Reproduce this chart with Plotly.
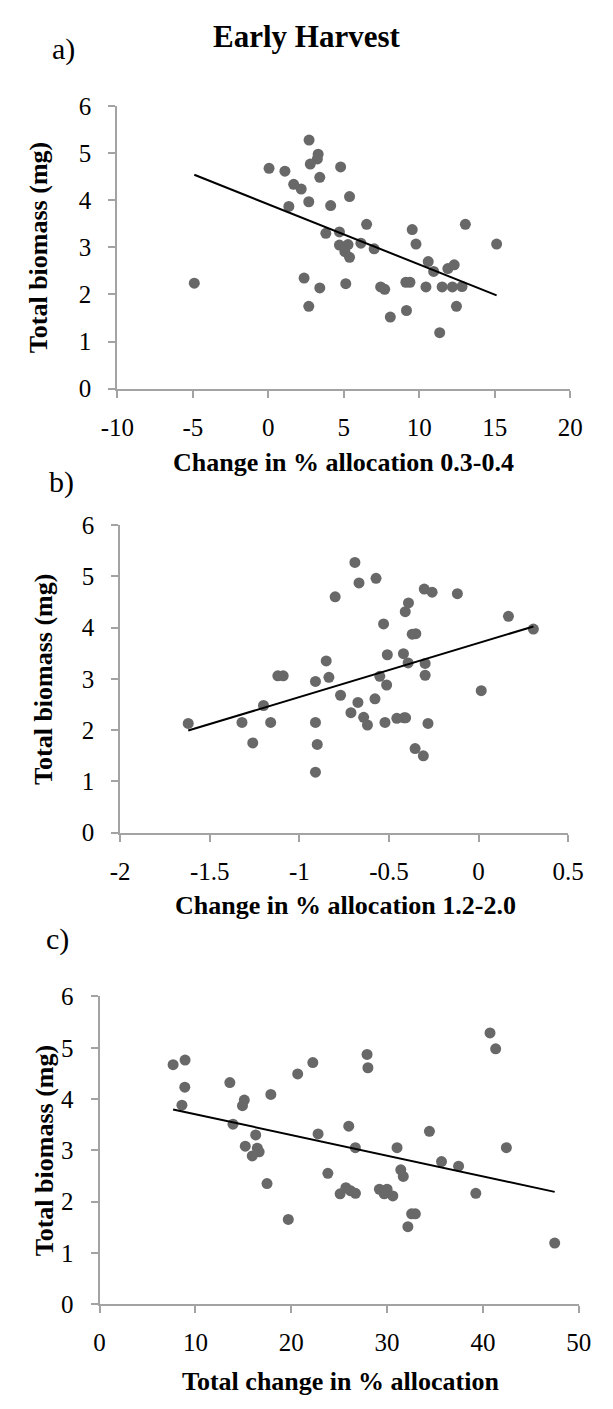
import plotly.graph_objects as go

W, H = 613, 1409

# ---------------- data ----------------
a_change = [-4.9, 0.05, 1.1, 2.7, 3.3, 3.25, 2.78, 3.41, 1.68, 2.18, 1.36, 2.68, 4.13, 3.81, 2.37, 3.41,
            2.68, 4.79, 5.38, 6.51, 4.71, 4.71, 5.28, 5.07, 5.38, 6.13, 7.01, 5.13, 9.53, 9.78, 13.05, 15.12,
            10.59, 10.95, 11.89, 12.31, 7.44, 7.71, 9.11, 9.38, 10.44, 11.51, 12.19, 12.83, 12.46, 9.15, 8.08, 11.35]
a_biomass = [2.24, 4.68, 4.62, 5.28, 4.98, 4.88, 4.77, 4.49, 4.34, 4.24, 3.87, 3.97, 3.89, 3.30, 2.35, 2.14,
             1.75, 4.71, 4.08, 3.49, 3.33, 3.05, 3.06, 2.91, 2.79, 3.09, 2.97, 2.23, 3.38, 3.07, 3.49, 3.07,
             2.70, 2.49, 2.55, 2.63, 2.16, 2.11, 2.26, 2.26, 2.16, 2.16, 2.16, 2.17, 1.75, 1.66, 1.52, 1.19]

b_change = [-1.62, -1.32, -1.26, -1.20, -1.16, -1.12, -1.09, -0.91, -0.91, -0.90, -0.91, -0.85, -0.835, -0.80,
            -0.77, -0.69, -0.667, -0.572, -0.712, -0.673, -0.641, -0.62, -0.578, -0.551, -0.513, -0.509, -0.53,
            -0.522, -0.456, -0.419, -0.416, -0.407, -0.393, -0.409, -0.391, -0.37, -0.35, -0.354, -0.308, -0.303,
            -0.259, -0.298, -0.298, -0.282, -0.118, 0.015, 0.167, 0.306]
b_biomass = [2.13, 2.15, 1.75, 2.48, 2.15, 3.06, 3.06, 2.95, 2.15, 1.72, 1.18, 3.35, 3.03, 4.60, 2.68, 5.27,
             4.87, 4.96, 2.34, 2.54, 2.25, 2.10, 2.61, 3.05, 2.88, 3.47, 4.07, 2.15, 2.23, 3.49, 2.24, 2.24,
             3.31, 4.31, 4.48, 3.87, 3.88, 1.64, 1.50, 4.75, 4.69, 3.30, 3.07, 2.13, 4.66, 2.77, 4.22, 3.97]

c_change = [7.67, 8.92, 8.89, 8.59, 13.59, 13.92, 15.10, 14.91, 17.87, 16.29, 15.20, 16.46, 16.65, 15.93,
            17.47, 20.67, 22.25, 22.80, 23.82, 19.69, 27.91, 28.0, 40.74, 41.33, 26.0, 34.42, 26.69, 31.04,
            42.45, 35.68, 37.46, 31.43, 31.69, 39.26, 25.1, 25.7, 26.2, 26.7, 29.2, 29.7, 30.0, 30.6,
            32.56, 32.95, 32.17, 47.49]
c_biomass = [4.67, 4.76, 4.23, 3.88, 4.32, 3.51, 3.98, 3.87, 4.09, 3.30, 3.08, 3.04, 2.97, 2.89, 2.35,
             4.49, 4.71, 3.32, 2.55, 1.65, 4.87, 4.61, 5.29, 4.98, 3.47, 3.37, 3.05, 3.05, 3.05, 2.78,
             2.69, 2.62, 2.49, 2.16, 2.15, 2.27, 2.21, 2.16, 2.24, 2.15, 2.24, 2.11, 1.76, 1.76, 1.51, 1.19]

trend_slopes = [-0.1279, 1.0535, -0.0404]
trend_intercepts = [3.916, 3.698, 4.107]

a_xticks = [-10, -5, 0, 5, 10, 15, 20]
b_xticks = [-2, -1.5, -1, -0.5, 0, 0.5]
b_xticklabels = ["-2", "-1.5", "-1", "-0.5", "0", "0.5"]
c_xticks = [0, 10, 20, 30, 40, 50]
yticks = [0, 1, 2, 3, 4, 5, 6]

titles_x = ["Change in % allocation 0.3-0.4", "Change in % allocation 1.2-2.0", "Total change in % allocation"]
title_y = "Total biomass (mg)"
panel_labels = ["a)", "b)", "c)"]
main_title = "Early Harvest"

# ---------------- styling / layout ----------------
FONT = "'Times New Roman', 'Liberation Serif', Times, serif"
MARK = "rgb(104,104,104)"
AXC = "#a3a3a3"

def px(x):
    return x / W

def py(y):
    return 1 - y / H

boxes = [(106, 584.8, 95, 383), (109, 582.5, 522, 835.7), (87.3, 593.7, 1002.7, 1316.3)]

fig = go.Figure()
datasets = [(a_change, a_biomass), (b_change, b_biomass), (c_change, c_biomass)]
for i, (xs, ys) in enumerate(datasets):
    suffix = "" if i == 0 else str(i + 1)
    fig.add_trace(go.Scatter(x=xs, y=ys, mode="markers",
                             marker=dict(color=MARK, size=11, line=dict(width=0)),
                             xaxis="x" + suffix, yaxis="y" + suffix, showlegend=False, cliponaxis=False))
    x0, x1 = min(xs), max(xs)
    s, b = trend_slopes[i], trend_intercepts[i]
    fig.add_trace(go.Scatter(x=[x0, x1], y=[s * x0 + b, s * x1 + b], mode="lines",
                             line=dict(color="black", width=2),
                             xaxis="x" + suffix, yaxis="y" + suffix, showlegend=False))

xranges = [[-10, 20], [-2, 0.5], [0, 50]]
xtickvals = [a_xticks, b_xticks, c_xticks]
xticktexts = [[str(v) for v in a_xticks], b_xticklabels, [str(v) for v in c_xticks]]

layout = dict(width=W, height=H, margin=dict(l=0, r=0, t=0, b=0),
              plot_bgcolor="white", paper_bgcolor="white", showlegend=False,
              font=dict(family=FONT, color="black"))
for i, (l, r, t, bt) in enumerate(boxes):
    suffix = "" if i == 0 else str(i + 1)
    layout["xaxis" + suffix] = dict(
        domain=[px(l), px(r)], range=xranges[i], anchor="y" + suffix,
        tickmode="array", tickvals=xtickvals[i], ticktext=xticktexts[i],
        showgrid=False, zeroline=False, showline=True, linecolor=AXC, linewidth=2,
        ticks="outside", ticklen=7, tickwidth=2, tickcolor=AXC,
        tickfont=dict(family=FONT, size=25, color="black"), ticklabelstandoff=8)
    layout["yaxis" + suffix] = dict(
        domain=[py(bt), py(t)], range=[0, 6], anchor="x" + suffix,
        tickmode="array", tickvals=yticks,
        showgrid=False, zeroline=False, showline=True, linecolor=AXC, linewidth=2,
        ticks="outside", ticklen=7, tickwidth=2, tickcolor=AXC,
        tickfont=dict(family=FONT, size=25, color="black"), ticklabelstandoff=12)

ann = []
ann.append(dict(text="<b>%s</b>" % main_title, x=px(305.8), y=py(24), xref="paper", yref="paper",
                xanchor="center", yanchor="middle", showarrow=False,
                font=dict(family=FONT, size=31, color="black")))
label_pos = [(49, 37), (47, 478), (43, 944)]
for lab, (lx, ly) in zip(panel_labels, label_pos):
    ann.append(dict(text=lab, x=px(lx), y=py(ly), xref="paper", yref="paper",
                    xanchor="center", yanchor="middle", showarrow=False,
                    font=dict(family=FONT, size=30, color="black")))
xtitle_pos = [(345.5, 458), (346.7, 910), (341.7, 1395)]
for t, (tx, ty) in zip(titles_x, xtitle_pos):
    ann.append(dict(text="<b>%s</b>" % t, x=px(tx), y=py(ty), xref="paper", yref="paper",
                    xanchor="center", yanchor="middle", showarrow=False,
                    font=dict(family=FONT, size=26, color="black")))
ytitle_pos = [(23, 239), (28.5, 679), (28.5, 1159.5)]
for (tx, ty) in ytitle_pos:
    ann.append(dict(text="<b>%s</b>" % title_y, x=px(tx), y=py(ty), xref="paper", yref="paper",
                    xanchor="center", yanchor="middle", showarrow=False, textangle=-90,
                    font=dict(family=FONT, size=26, color="black")))
layout["annotations"] = ann

fig.update_layout(**layout)
fig.write_html("out.html")
